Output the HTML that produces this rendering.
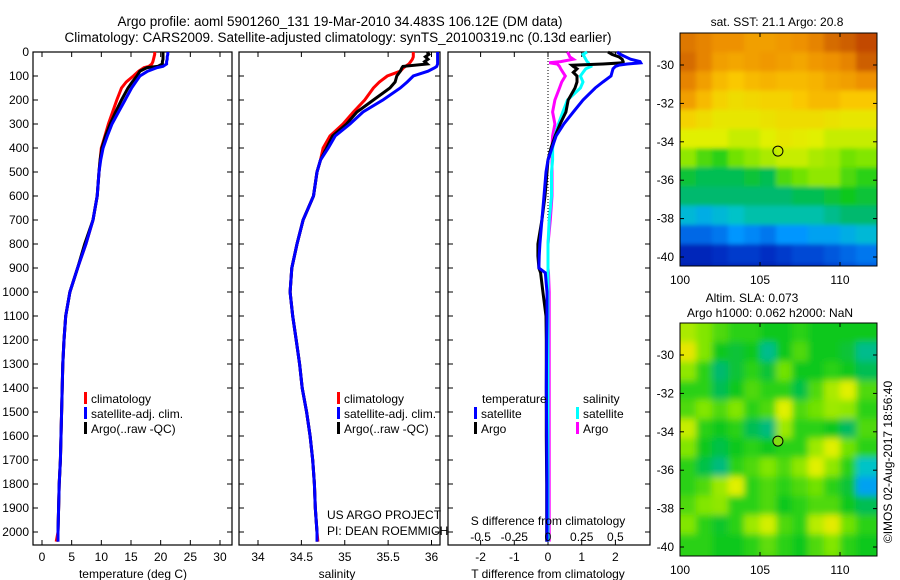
<!DOCTYPE html>
<html><head><meta charset="utf-8"><style>
html,body{margin:0;padding:0;background:#fff}
svg{display:block;font-family:"Liberation Sans",sans-serif}
</style></head><body>
<svg id="c" width="900" height="580" viewBox="0 0 900 580">
<text x="340" y="26" font-size="13.5" text-anchor="middle">Argo profile: aoml 5901260_131 19-Mar-2010 34.483S 106.12E (DM data)</text>
<text x="338" y="42" font-size="13.5" text-anchor="middle">Climatology: CARS2009. Satellite-adjusted climatology: synTS_20100319.nc (0.13d earlier)</text>
<g id="g"></g>
</svg>
<script>
// ---------- data ----------
const depthT=[0,10,20,30,40,50,60,65,80,100,125,150,200,250,300,350,400,450,500,600,700,800,900,1000,1100,1200,1300,1400,1500,1600,1700,1800,1900,2000,2040];
const tempClim=[19.0,19.0,18.9,18.8,18.7,18.5,18.0,17.2,16.3,15.4,14.2,13.4,12.6,11.9,11.2,10.6,10.0,9.8,9.6,9.3,8.6,7.4,6.0,4.7,4.0,3.7,3.5,3.4,3.3,3.2,3.1,2.9,2.8,2.7,2.4];
const tempSat=[21.2,21.2,21.1,21.1,21.0,21.0,20.4,19.4,17.8,16.5,15.8,15.1,14.0,12.9,11.8,11.0,10.3,9.9,9.6,9.3,8.6,7.4,6.0,4.7,4.0,3.7,3.5,3.4,3.3,3.2,3.1,2.9,2.8,2.7,2.7];
const tempArgo=[20.4,20.4,20.4,20.4,20.3,20.3,19.5,17.7,16.5,16.0,15.2,14.5,13.4,12.4,11.5,10.7,10.1,9.8,9.6,9.3,8.6,7.2,6.0,4.7,4.0,3.7,3.5,3.4,3.3,3.2,3.1,2.9,2.8,2.7,2.7];
const salClim=[35.79,35.79,35.79,35.78,35.76,35.74,35.70,35.68,35.64,35.49,35.40,35.33,35.23,35.10,34.98,34.83,34.75,34.72,34.68,34.64,34.52,34.45,34.39,34.37,34.40,34.44,34.48,34.51,34.56,34.60,34.63,34.65,34.66,34.68,34.69];
const salSat=[36.07,36.07,36.07,36.07,36.07,36.07,36.06,36.04,35.96,35.79,35.72,35.64,35.44,35.21,35.06,34.89,34.81,34.72,34.68,34.64,34.52,34.45,34.39,34.37,34.40,34.44,34.48,34.51,34.56,34.60,34.63,34.65,34.66,34.68,34.68];
const salArgo=[35.95,35.97,35.93,35.96,35.92,35.95,35.67,35.66,35.64,35.60,35.58,35.52,35.33,35.14,35.02,34.86,34.79,34.72,34.68,34.64,34.52,34.45,34.39,34.37,34.40,34.44,34.48,34.51,34.56,34.60,34.63,34.65,34.66,34.68,34.68];
const depthD=[0,10,20,30,40,45,50,55,60,70,85,100,125,150,200,250,300,350,400,450,500,600,700,800,850,900,920,1000,1100,1200,1400,1600,1800,2000,2040];
const dTsat=[2.05,2.15,2.3,2.45,2.73,2.75,2.35,2.1,2.0,1.93,1.9,1.87,1.63,1.4,1.04,0.75,0.47,0.24,0.12,0.0,-0.06,-0.12,-0.18,-0.24,-0.26,-0.27,-0.08,-0.03,-0.03,-0.04,-0.05,-0.04,-0.03,-0.03,-0.03];
const dTargo=[1.78,1.9,2.1,2.2,2.23,2.23,1.63,0.71,0.75,0.86,0.75,0.86,0.86,0.8,0.6,0.53,0.36,0.21,0.09,0.0,-0.03,-0.09,-0.18,-0.3,-0.3,-0.27,-0.22,-0.15,-0.06,-0.05,-0.05,-0.05,-0.04,-0.04,-0.04];
const dSsat=[0.29,0.26,0.27,0.28,0.29,0.30,0.30,0.32,0.32,0.28,0.26,0.24,0.26,0.24,0.145,0.11,0.077,0.051,0.034,0.034,0.026,0.026,0.009,0.0,0.0,0.0,0.0,0.0,0.0,0.0,0.0,0.0,0.0,0.0,0.0];
const dSargo=[0.145,0.154,0.162,0.188,0.094,0.009,0.068,0.077,0.085,0.094,0.111,0.128,0.102,0.085,0.051,0.034,0.051,0.034,0.03,0.03,0.03,0.03,0.017,0.0,0.0,0.0,0.004,0.009,0.009,0.009,0.009,0.009,0.009,0.009,0.009];
const depthTicks=[0,100,200,300,400,500,600,700,800,900,1000,1100,1200,1300,1400,1500,1600,1700,1800,1900,2000];
const tempTicks=[0,5,10,15,20,25,30];
const salTicks=[34,34.5,35,35.5,36];
const salTickLabels=["34","34.5","35","35.5","36"];
const dTTicks=[-2,-1,0,1,2];
const dSTicks=[-0.5,-0.25,0,0.25,0.5];
const dSTickLabels=["-0.5","-0.25","0","0.25","0.5"];
const latTicks=[-30,-32,-34,-36,-38,-40];
const lonTicks=[100,105,110];
const sstGrid=[
[0.82,0.80,0.78,0.78,0.76,0.76,0.77,0.78,0.80,0.84,0.86,0.90],
[0.84,0.80,0.76,0.75,0.76,0.77,0.76,0.75,0.77,0.78,0.80,0.86],
[0.80,0.76,0.72,0.70,0.72,0.73,0.72,0.72,0.73,0.75,0.76,0.78],
[0.76,0.72,0.68,0.66,0.67,0.68,0.68,0.70,0.72,0.72,0.70,0.70],
[0.68,0.66,0.64,0.64,0.64,0.65,0.66,0.66,0.66,0.65,0.64,0.64],
[0.62,0.62,0.62,0.60,0.60,0.62,0.64,0.63,0.62,0.60,0.60,0.60],
[0.56,0.52,0.50,0.54,0.56,0.58,0.60,0.60,0.58,0.57,0.54,0.55],
[0.46,0.44,0.44,0.44,0.46,0.44,0.52,0.54,0.56,0.56,0.52,0.50],
[0.42,0.42,0.42,0.42,0.42,0.42,0.42,0.44,0.44,0.46,0.48,0.46],
[0.34,0.32,0.34,0.36,0.38,0.38,0.38,0.38,0.38,0.40,0.42,0.42],
[0.22,0.22,0.24,0.28,0.26,0.24,0.28,0.28,0.30,0.30,0.32,0.34],
[0.12,0.12,0.14,0.16,0.16,0.14,0.16,0.18,0.18,0.20,0.22,0.24],
[0.10,0.10,0.12,0.12,0.12,0.10,0.12,0.14,0.14,0.16,0.18,0.20]];
const slaGrid=[
[0.58,0.55,0.52,0.50,0.50,0.48,0.48,0.50,0.48,0.48,0.48,0.48],
[0.64,0.55,0.48,0.46,0.48,0.40,0.48,0.52,0.48,0.48,0.46,0.40],
[0.56,0.50,0.42,0.46,0.50,0.46,0.54,0.48,0.48,0.50,0.48,0.44],
[0.50,0.50,0.44,0.48,0.52,0.50,0.50,0.45,0.52,0.58,0.62,0.52],
[0.52,0.55,0.52,0.55,0.50,0.52,0.62,0.52,0.54,0.57,0.56,0.50],
[0.60,0.50,0.48,0.50,0.44,0.41,0.57,0.50,0.50,0.48,0.43,0.52],
[0.55,0.48,0.45,0.48,0.50,0.48,0.50,0.50,0.57,0.62,0.54,0.50],
[0.50,0.45,0.41,0.50,0.52,0.55,0.52,0.56,0.62,0.56,0.50,0.36],
[0.50,0.52,0.57,0.62,0.50,0.52,0.50,0.52,0.54,0.50,0.46,0.30],
[0.52,0.55,0.56,0.50,0.50,0.52,0.48,0.50,0.52,0.52,0.48,0.44],
[0.55,0.50,0.47,0.50,0.57,0.61,0.52,0.50,0.59,0.63,0.54,0.50],
[0.50,0.50,0.48,0.48,0.50,0.53,0.50,0.48,0.52,0.55,0.50,0.48],
[0.50,0.50,0.48,0.48,0.50,0.52,0.50,0.48,0.52,0.54,0.50,0.48]];
const floatLon=106.12, floatLat=-34.483;

// ---------- helpers ----------
const NS="http://www.w3.org/2000/svg";
const G=document.getElementById('g');
function el(tag,attrs,parent){const e=document.createElementNS(NS,tag);for(const k in attrs)e.setAttribute(k,attrs[k]);(parent||G).appendChild(e);return e;}
function txt(x,y,s,size,anchor,parent){const t=el('text',{x:x,y:y,'font-size':size,'text-anchor':anchor||'middle'},parent);t.textContent=s;return t;}
const yD=d=>52+d*0.24;
const PT={l:33,r:232}, PS={l:239,r:440}, PD={l:448,r:650};
const TOP=52,BOT=545;
const xT=t=>42+t*5.933;
const xS=s=>258+(s-34)*86.75;
const xDT=v=>548+v*33.7;
const xDS=v=>548+v*134.8;

function frame(p,name){
  const r=el('rect',{x:p.l,y:TOP,width:p.r-p.l,height:BOT-TOP,fill:'none',stroke:'#000','stroke-width':1.2});
  
  
  depthTicks.forEach(d=>{
    el('line',{x1:p.l,x2:p.l+5,y1:yD(d),y2:yD(d),stroke:'#000'});
    el('line',{x1:p.r-5,x2:p.r,y1:yD(d),y2:yD(d),stroke:'#000'});
  });
}
function xticks(p,vals,fx,labels,ly){
  vals.forEach((v,i)=>{
    const x=fx(v);
    el('line',{x1:x,x2:x,y1:TOP,y2:TOP+5,stroke:'#000'});
    el('line',{x1:x,x2:x,y1:BOT-5,y2:BOT,stroke:'#000'});
    if(labels){const t=txt(x,ly,labels[i],12);
      
      }
  });
}
function line(xs,ds,fx,color,name,w){
  const pts=xs.map((v,i)=>fx(v).toFixed(1)+','+yD(ds[i]).toFixed(1)).join(' ');
  const p=el('polyline',{points:pts,fill:'none',stroke:color,'stroke-width':w||3,'stroke-linejoin':'miter'});
  
  
}
function legend(x,y,color,label){
  el('rect',{x:x,y:y-11,width:3,height:12,fill:color});
  const t=txt(x+7,y,label,12,'start');
  
  
}

// ---------- panel 1: temperature ----------
frame(PT,'temperature-panel');
xticks(PT,tempTicks,xT,tempTicks.map(String),561);
depthTicks.forEach(d=>{const t=txt(29,yD(d)+4,String(d),12,'end');
  
  });
line(tempClim,depthT,xT,'#f00','temp-climatology-line');
line(tempArgo,depthT,xT,'#000','temp-argo-line');
line(tempSat,depthT,xT,'#00f','temp-satellite-line');
{const t=txt(133,578,'temperature (deg C)',12);}
legend(84,403,'#f00','climatology');
legend(84,418,'#00f','satellite-adj. clim.');
legend(84,433,'#000','Argo(..raw -QC)');

// ---------- panel 2: salinity ----------
frame(PS,'salinity-panel');
xticks(PS,salTicks,xS,salTickLabels,561);
line(salClim,depthT,xS,'#f00','sal-climatology-line');
line(salArgo,depthT,xS,'#000','sal-argo-line');
line(salSat,depthT,xS,'#00f','sal-satellite-line');
{const t=txt(337,578,'salinity',12);}
legend(337,403,'#f00','climatology');
legend(337,418,'#00f','satellite-adj. clim.');
legend(337,433,'#000','Argo(..raw -QC)');
txt(327,519,'US ARGO PROJECT',12,'start');
txt(327,535,'PI: DEAN ROEMMICH',12,'start');

// ---------- panel 3: differences ----------
frame(PD,'difference-panel');
xticks(PD,dTTicks,xDT,dTTicks.map(String),561);
el('line',{x1:548,x2:548,y1:TOP,y2:BOT,stroke:'#000','stroke-dasharray':'1,2'});
line(dSargo,depthD,xDS,'#f0f','salinity-argo-diff-line');
line(dSsat,depthD,xDS,'#0ff','salinity-satellite-diff-line');
line(dTargo,depthD,xDT,'#000','temperature-argo-diff-line');
line(dTsat,depthD,xDT,'#00f','temperature-satellite-diff-line');
txt(548,525,'S difference from climatology',12);
dSTicks.forEach((v,i)=>{const t=txt(xDS(v),541,dSTickLabels[i],12);
  
  });
{const t=txt(548,578,'T difference from climatology',12);}
txt(482,403,'temperature',12,'start');
txt(583,403,'salinity',12,'start');
legend(474,418,'#00f','satellite');
legend(474,433,'#000','Argo');
legend(576,418,'#0ff','satellite');
legend(576,433,'#f0f','Argo');

// ---------- maps ----------
const stops=[[0,[0,0,130]],[0.15,[0,50,200]],[0.28,[0,150,255]],[0.36,[0,195,200]],[0.42,[0,185,110]],[0.48,[10,200,30]],[0.55,[130,230,0]],[0.62,[225,240,0]],[0.70,[250,200,0]],[0.78,[238,145,0]],[0.86,[205,95,0]],[1,[165,20,0]]];
function cmap(v){for(let i=1;i<stops.length;i++){if(v<=stops[i][0]){const a=stops[i-1],b=stops[i],f=(v-a[0])/(b[0]-a[0]);
  return 'rgb('+a[1].map((c,j)=>Math.round(c+(b[1][j]-c)*f)).join(',')+')';}}return 'rgb(165,20,0)';}
const defs=el('defs',{});
const flt=el('filter',{id:'bl',x:'-5%',y:'-5%',width:'110%',height:'110%'},defs);
el('feGaussianBlur',{stdDeviation:3.5},flt);
const flt2=el('filter',{id:'bl2',x:'-5%',y:'-5%',width:'110%',height:'110%'},defs);
el('feGaussianBlur',{stdDeviation:2},flt2);
function map(top,grid,name,circleFill,blurId){
  const L=680,R=877,B=top+233;
  const xL=lon=>680+(lon-100)*16;
  const yL=lat=>top+32+(-30-lat)*19.2;
  const cp=el('clipPath',{id:'cp'+name},defs);
  el('rect',{x:L,y:top,width:R-L,height:B-top},cp);
  const g=el('g',{'clip-path':'url(#cp'+name+')'});
  
  
  const inner=el('g',{filter:'url(#'+blurId+')'},g);
  const lat0=-28.33;
  grid.forEach((row,i)=>row.forEach((v,j)=>{
    const c=el('rect',{x:xL(100+j)-(j==0?8:0),y:yL(lat0-i)-(i==0?8:0),width:16.5+(j==0?8:0)+(j==11?10:0),height:19.7+(i==0?8:0)+(i==12?10:0),fill:cmap(v)},inner);
    
    
  }));
  el('rect',{x:L,y:top,width:R-L,height:B-top,fill:'none',stroke:'#000'});
  latTicks.forEach(l=>{const y=yL(l);el('line',{x1:L,x2:L+4,y1:y,y2:y,stroke:'#000'});el('line',{x1:R-4,x2:R,y1:y,y2:y,stroke:'#000'});
    const t=txt(674,y+4,String(l),12,'end');});
  lonTicks.forEach(l=>{const x=xL(l);el('line',{x1:x,x2:x,y1:top,y2:top+4,stroke:'#000'});el('line',{x1:x,x2:x,y1:B-4,y2:B,stroke:'#000'});
    const t=txt(x,B+18,String(l),12);});
  const c=el('circle',{cx:xL(floatLon),cy:yL(floatLat),r:5,fill:circleFill,stroke:'#000','stroke-width':1});
  
  
}
map(33,sstGrid,'sst-map','none','bl2');
map(323,slaGrid,'sla-map','rgb(130,220,20)','bl');
txt(777,26,'sat. SST: 21.1 Argo: 20.8',12);
txt(752,302,'Altim. SLA: 0.073',12);
txt(770,317,'Argo h1000: 0.062 h2000: NaN',12);
{const t=txt(0,0,'\u00A9IMOS 02-Aug-2017 18:56:40',12);t.setAttribute('transform','translate(892,462) rotate(-90)');
 }
</script>
</body></html>
